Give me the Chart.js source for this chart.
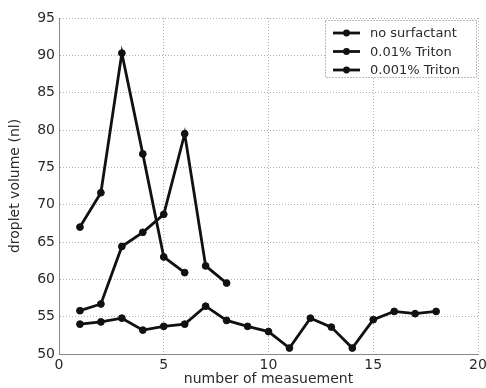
<!DOCTYPE html>
<html>
<head>
<meta charset="utf-8">
<script src="https://cdn.jsdelivr.net/npm/chart.js@4/dist/chart.umd.min.js"></script>
<style>
  html, body { margin: 0; padding: 0; background: #fff; }
  #wrap { width: 486px; height: 388px; position: relative; }
</style>
</head>
<body>
<div id="wrap"><canvas id="c" width="486" height="388"></canvas></div>
<script>
// ---- data ----
const seriesLabels = ['no surfactant', '0.01% Triton', '0.001% Triton'];
const measurementsA = [1, 2, 3, 4, 5, 6];
const noSurfactant = [67.0, 71.6, 90.3, 76.8, 63.0, 60.9];
const measurementsB = [1, 2, 3, 4, 5, 6, 7, 8];
const triton001 = [55.8, 56.7, 64.4, 66.3, 68.7, 79.5, 61.8, 59.5];
const measurementsC = [1, 2, 3, 4, 5, 6, 7, 8, 9, 10, 11, 12, 13, 14, 15, 16, 17, 18];
const triton0001 = [54.0, 54.3, 54.8, 53.2, 53.7, 54.0, 56.4, 54.5, 53.7, 53.0, 50.8, 54.8, 53.6, 50.8, 54.6, 55.7, 55.4, 55.7];
const xTicks = [0, 5, 10, 15, 20];
const yTicks = [50, 55, 60, 65, 70, 75, 80, 85, 90, 95];

const toPts = (xs, ys) => xs.map((x, i) => ({ x: x, y: ys[i] }));

const FONT = 'DejaVu Sans';
const TEXT = '#2a2a2a';

const lineStyle = {
  borderColor: '#111',
  backgroundColor: '#111',
  borderWidth: 2.8,
  pointRadius: 3.4,
  pointHoverRadius: 3.4,
  pointBackgroundColor: '#111',
  pointBorderColor: '#111',
  pointBorderWidth: 1,
  tension: 0,
  fill: false
};

const boxLegend = {
  id: 'boxLegend',
  afterDatasetsDraw(chart) {
    const ctx = chart.ctx;
    const area = chart.chartArea;
    const w = 152, h = 58;
    const x0 = area.right - w - 1, y0 = area.top + 2;
    ctx.save();
    ctx.fillStyle = '#fff';
    ctx.fillRect(x0, y0, w, h);
    ctx.setLineDash([1, 2]);
    ctx.strokeStyle = '#777';
    ctx.lineWidth = 1;
    ctx.strokeRect(x0 + 0.5, y0 + 0.5, w - 1, h - 1);
    ctx.setLineDash([]);
    chart.data.datasets.forEach((ds, i) => {
      const cy = y0 + 13 + i * 18.5;
      ctx.strokeStyle = ds.borderColor;
      ctx.lineWidth = ds.borderWidth;
      ctx.beginPath();
      ctx.moveTo(x0 + 8, cy);
      ctx.lineTo(x0 + 35, cy);
      ctx.stroke();
      ctx.fillStyle = ds.pointBackgroundColor;
      ctx.beginPath();
      ctx.arc(x0 + 21.5, cy, ds.pointRadius, 0, Math.PI * 2);
      ctx.fill();
      ctx.fillStyle = TEXT;
      ctx.font = '13px "' + FONT + '"';
      ctx.textAlign = 'left';
      ctx.textBaseline = 'middle';
      ctx.fillText(ds.label, x0 + 45, cy + 1);
    });
    ctx.restore();
  }
};

new Chart(document.getElementById('c'), {
  type: 'line',
  data: {
    datasets: [
      Object.assign({ label: seriesLabels[0], data: toPts(measurementsA, noSurfactant) }, lineStyle),
      Object.assign({ label: seriesLabels[1], data: toPts(measurementsB, triton001) }, lineStyle),
      Object.assign({ label: seriesLabels[2], data: toPts(measurementsC, triton0001) }, lineStyle)
    ]
  },
  options: {
    responsive: false,
    animation: false,
    devicePixelRatio: 1,
    layout: { padding: { left: 0, right: 8, top: 18, bottom: 0 } },
    plugins: {
      legend: { display: false },
      tooltip: { enabled: false },
      title: { display: false }
    },
    scales: {
      x: {
        type: 'linear',
        min: 0, max: 20,
        offset: false,
        afterBuildTicks(scale) { scale.ticks = xTicks.map(v => ({ value: v })); },
        afterFit(scale) { scale.height = 34; scale.paddingRight = 0; scale.paddingLeft = 0; },
        ticks: { color: TEXT, font: { family: FONT, size: 14 }, padding: 3, maxRotation: 0 },
        grid: { color: '#b0b0b0', lineWidth: 1, drawTicks: false },
        border: { display: true, color: '#888', dash: [1, 2] },
        title: { display: true, text: 'number of measuement', color: TEXT, font: { family: FONT, size: 14 }, padding: { top: 0, bottom: 0 } }
      },
      y: {
        type: 'linear',
        min: 50, max: 95,
        afterBuildTicks(scale) { scale.ticks = yTicks.map(v => ({ value: v })); },
        afterFit(scale) { scale.width = 59; scale.paddingTop = 0; scale.paddingBottom = 0; },
        ticks: { color: TEXT, font: { family: FONT, size: 14 }, padding: 4 },
        grid: { color: '#b0b0b0', lineWidth: 1, drawTicks: false },
        border: { display: true, color: '#888', dash: [1, 2] },
        title: { display: true, text: 'droplet volume (nl)', color: TEXT, font: { family: FONT, size: 14 }, padding: { top: 7, bottom: 0 } }
      }
    }
  },
  plugins: [boxLegend]
});
</script>
</body>
</html>
